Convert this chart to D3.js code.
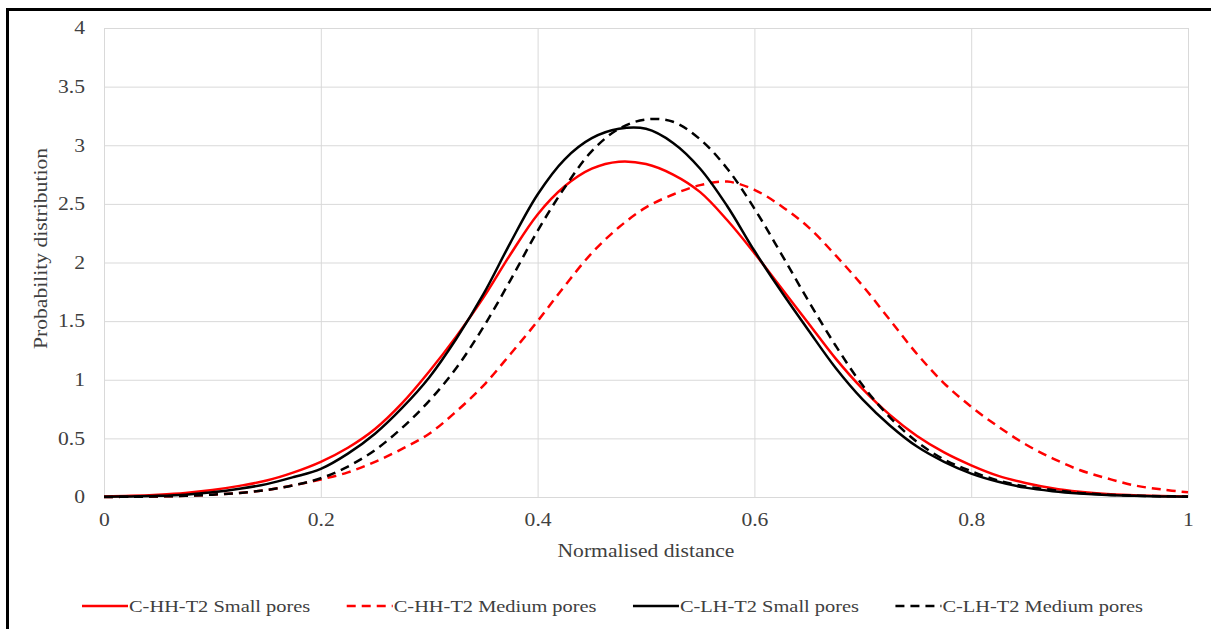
<!DOCTYPE html>
<html>
<head>
<meta charset="utf-8">
<script src="https://cdn.jsdelivr.net/npm/d3@7"></script>
<style>
  body { margin: 0; background: #fff; }
</style>
</head>
<body>
<div id="chart"></div>
<script>
// normalised distance (x) shared by all series, step 0.025
const distance = [0, 0.025, 0.05, 0.075, 0.1, 0.125, 0.15, 0.175, 0.2, 0.225,
                  0.25, 0.275, 0.3, 0.325, 0.35, 0.375, 0.4, 0.425, 0.45, 0.475,
                  0.5, 0.525, 0.55, 0.575, 0.6, 0.625, 0.65, 0.675, 0.7, 0.725,
                  0.75, 0.775, 0.8, 0.825, 0.85, 0.875, 0.9, 0.925, 0.95, 0.975, 1];

const hhSmall  = [0.005, 0.01, 0.02, 0.035, 0.06, 0.095, 0.14, 0.21, 0.30, 0.42,
                  0.58, 0.80, 1.07, 1.37, 1.70, 2.07, 2.41, 2.65, 2.80, 2.86,
                  2.84, 2.75, 2.60, 2.36, 2.08, 1.78, 1.48, 1.18, 0.92, 0.70,
                  0.52, 0.38, 0.27, 0.18, 0.12, 0.075, 0.045, 0.025, 0.015, 0.008, 0.005];
const hhMedium = [0.0, 0.002, 0.005, 0.01, 0.02, 0.035, 0.06, 0.10, 0.15, 0.21,
                  0.30, 0.41, 0.54, 0.73, 0.95, 1.22, 1.50, 1.80, 2.08, 2.30,
                  2.47, 2.58, 2.66, 2.69, 2.62, 2.48, 2.30, 2.06, 1.80, 1.51,
                  1.22, 0.97, 0.77, 0.60, 0.45, 0.33, 0.23, 0.16, 0.10, 0.065, 0.04];
const lhSmall  = [0.003, 0.005, 0.01, 0.02, 0.04, 0.07, 0.11, 0.17, 0.24, 0.37,
                  0.54, 0.76, 1.02, 1.35, 1.73, 2.17, 2.58, 2.88, 3.06, 3.14,
                  3.14, 3.02, 2.80, 2.48, 2.10, 1.75, 1.42, 1.10, 0.83, 0.61,
                  0.43, 0.30, 0.20, 0.13, 0.08, 0.05, 0.03, 0.017, 0.01, 0.005, 0.003];
const lhMedium = [0.0, 0.002, 0.005, 0.01, 0.02, 0.035, 0.06, 0.10, 0.16, 0.26,
                  0.40, 0.59, 0.82, 1.10, 1.45, 1.85, 2.27, 2.64, 2.95, 3.14,
                  3.22, 3.20, 3.05, 2.80, 2.46, 2.07, 1.67, 1.29, 0.95, 0.68,
                  0.47, 0.32, 0.22, 0.14, 0.09, 0.06, 0.035, 0.02, 0.012, 0.007, 0.004];

const xTicks = [0, 0.2, 0.4, 0.6, 0.8, 1];
const yTicks = [0, 0.5, 1, 1.5, 2, 2.5, 3, 3.5, 4];

const seriesNames = ["C-HH-T2 Small pores", "C-HH-T2 Medium pores", "C-LH-T2 Small pores", "C-LH-T2 Medium pores"];
const seriesValues = [hhSmall, hhMedium, lhSmall, lhMedium];
const seriesColors = ["#ff0000", "#ff0000", "#000000", "#000000"];
const seriesDashed = [false, true, false, true];

const W = 1211, H = 629;
const margin = { top: 28, right: 23, bottom: 132, left: 104 };
const width = W - margin.left - margin.right;
const height = H - margin.top - margin.bottom;

const FONT = "'Liberation Serif', 'Times New Roman', 'DejaVu Serif', serif";
const STRETCH = 1.2; // the picture's text is a bit wider than normal Times

// apply font and widen glyphs a little
function styleText(sel, size = 18) {
    sel.style("font-family", FONT)
       .style("font-size", size + "px")
       .attr("fill", "#404040")
       .each(function() {
           const len = this.getComputedTextLength();
           d3.select(this)
             .attr("textLength", len * STRETCH)
             .attr("lengthAdjust", "spacingAndGlyphs");
       });
}

const root = d3.select("#chart").append("svg")
    .attr("width", W)
    .attr("height", H);

// outer frame (only top and left edges show in the picture)
root.append("rect")
    .attr("x", 7.5).attr("y", 9.5)
    .attr("width", 1400).attr("height", 900)
    .attr("fill", "none")
    .attr("stroke", "#000")
    .attr("stroke-width", 3);

const svg = root.append("g")
    .attr("transform", `translate(${margin.left},${margin.top})`);

const x = d3.scaleLinear().domain([0, 1]).range([0, width]);
const y = d3.scaleLinear().domain([0, 4]).range([height, 0]);

// gridlines
svg.append("g")
    .call(d3.axisLeft(y).tickValues(yTicks).tickSize(-width).tickFormat(""))
    .call(g => g.select(".domain").remove())
    .call(g => g.selectAll("line").attr("stroke", "#d9d9d9"));

svg.append("g")
    .attr("transform", `translate(0,${height})`)
    .call(d3.axisBottom(x).tickValues(xTicks).tickSize(-height).tickFormat(""))
    .call(g => g.select(".domain").remove())
    .call(g => g.selectAll("line").attr("stroke", "#d9d9d9"));

// axes (labels only)
svg.append("g")
    .attr("transform", `translate(0,${height})`)
    .call(d3.axisBottom(x).tickValues(xTicks).tickSize(0).tickPadding(16).tickFormat(d3.format("")))
    .call(g => g.select(".domain").attr("stroke", "#d9d9d9"))
    .call(g => g.selectAll("text").call(styleText));

svg.append("g")
    .call(d3.axisLeft(y).tickValues(yTicks).tickSize(0).tickPadding(19).tickFormat(d3.format("")))
    .call(g => g.select(".domain").remove())
    .call(g => g.selectAll("text").call(styleText));

// axis titles
svg.append("text")
    .attr("x", width / 2)
    .attr("y", height + 60)
    .attr("text-anchor", "middle")
    .text("Normalised distance")
    .call(styleText);

svg.append("text")
    .attr("transform", "rotate(-90)")
    .attr("x", -height / 2 + 14)
    .attr("y", -57)
    .attr("text-anchor", "middle")
    .text("Probability distribution")
    .call(styleText);

// lines
const line = d3.line()
    .x(d => x(d[0]))
    .y(d => y(d[1]))
    .curve(d3.curveCatmullRom.alpha(0.5));

seriesValues.forEach((vals, i) => {
    svg.append("path")
        .datum(distance.map((d, j) => [d, vals[j]]))
        .attr("d", line)
        .attr("fill", "none")
        .attr("stroke", seriesColors[i])
        .attr("stroke-width", 2.5)
        .attr("stroke-dasharray", seriesDashed[i] ? "9,6" : null);
});

// legend: laid out left to right, spread between 82 and 1143
const legendLeft = 82, legendRight = 1143, symW = 46;
const legend = root.selectAll(".legend")
    .data(seriesNames)
    .enter()
    .append("g")
    .attr("class", "legend");

legend.append("line")
    .attr("x1", 0).attr("x2", symW)
    .attr("y1", 0).attr("y2", 0)
    .attr("stroke", (d, i) => seriesColors[i])
    .attr("stroke-width", 2.5)
    .attr("stroke-dasharray", (d, i) => seriesDashed[i] ? "9,6" : null);

legend.append("text")
    .attr("x", symW + 1)
    .attr("y", 6)
    .text(d => d)
    .call(styleText, 17);

const textW = legend.select("text").nodes().map(n => +n.getAttribute("textLength"));
const used = d3.sum(textW) + seriesNames.length * (symW + 1);
const gap = (legendRight - legendLeft - used) / (seriesNames.length - 1);
let cx = legendLeft;
legend.attr("transform", (d, i) => {
    const t = `translate(${cx},606)`;
    cx += symW + 1 + textW[i] + gap;
    return t;
});
</script>
</body>
</html>
